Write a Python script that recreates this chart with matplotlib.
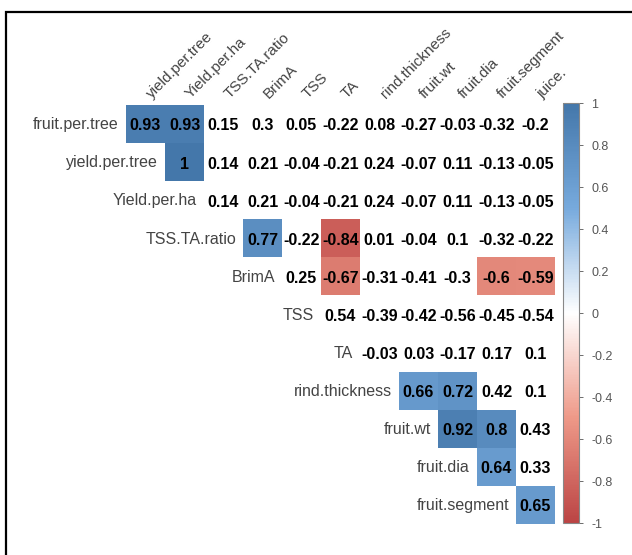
import numpy as np
import matplotlib
matplotlib.use("Agg")
import matplotlib.pyplot as plt
from matplotlib.colors import LinearSegmentedColormap, Normalize
from matplotlib.patches import Rectangle
from matplotlib.cm import ScalarMappable

plt.rcParams['font.family'] = ['Liberation Sans', 'DejaVu Sans']

variables = ["fruit.per.tree", "yield.per.tree", "Yield.per.ha", "TSS.TA.ratio",
             "BrimA", "TSS", "TA", "rind.thickness", "fruit.wt", "fruit.dia",
             "fruit.segment", "juice."]

# upper triangle of the correlation matrix, row i starts at variable i+1
upper = [
    [0.93, 0.93, 0.15, 0.3, 0.05, -0.22, 0.08, -0.27, -0.03, -0.32, -0.2],
    [1, 0.14, 0.21, -0.04, -0.21, 0.24, -0.07, 0.11, -0.13, -0.05],
    [0.14, 0.21, -0.04, -0.21, 0.24, -0.07, 0.11, -0.13, -0.05],
    [0.77, -0.22, -0.84, 0.01, -0.04, 0.1, -0.32, -0.22],
    [0.25, -0.67, -0.31, -0.41, -0.3, -0.6, -0.59],
    [0.54, -0.39, -0.42, -0.56, -0.45, -0.54],
    [-0.03, 0.03, -0.17, 0.17, 0.1],
    [0.66, 0.72, 0.42, 0.1],
    [0.92, 0.8, 0.43],
    [0.64, 0.33],
    [0.65],
]

# significant cells (row, column) - only these get a fill colour
signif = [(0, 0), (0, 1), (1, 1), (3, 3), (3, 5), (4, 5), (4, 9), (4, 10),
          (7, 7), (7, 8), (8, 8), (8, 9), (9, 9), (10, 10)]

cbar_ticks = [-1, -0.8, -0.6, -0.4, -0.2, 0, 0.2, 0.4, 0.6, 0.8, 1]

n = len(upper)
cmap = LinearSegmentedColormap.from_list(
    "corr", ["#BB4444", "#EE9988", "#FFFFFF", "#77AADD", "#4477AA"])
norm = Normalize(-1, 1)

W, H = 632, 555
fig = plt.figure(figsize=(W / 100, H / 100), dpi=100)

# outer frame
fig.patches.append(Rectangle((6 / W, -0.1), 1.2, 1 - 12 / H + 0.1,
                             transform=fig.transFigure, fill=False,
                             edgecolor="black", linewidth=1.6))

x0, x1, ytop, ybot = 126, 555, 105, 524
ax = fig.add_axes([x0 / W, 1 - ybot / H, (x1 - x0) / W, (ybot - ytop) / H])

mat = np.full((n, n), np.nan)
for i, row in enumerate(upper):
    for k, v in enumerate(row):
        j = i + k
        if (i, j) in signif:
            mat[i, j] = v
ax.imshow(np.ma.masked_invalid(mat), cmap=cmap, norm=norm, aspect="auto",
          interpolation="nearest", extent=(-0.5, n - 0.5, n - 0.5, -0.5))

for i, row in enumerate(upper):
    for k, v in enumerate(row):
        j = i + k
        ax.text(j, i + 0.05, f"{v:g}", ha="center", va="center",
                fontsize=11.5, fontweight="bold", color="black")
    # row labels
    ax.text(i - 0.68, i + 0.02, variables[i], ha="right", va="center",
            fontsize=11.5, color="#444444")

# column labels
for j in range(n):
    ax.text(j + 0.22, -0.6, variables[j + 1], rotation=45, ha="left",
            va="bottom", rotation_mode="anchor", fontsize=11, color="#444444")

ax.set_xlim(-0.5, n - 0.5)
ax.set_ylim(n - 0.5, -0.5)
ax.axis("off")

# colour legend
cax = fig.add_axes([563 / W, 1 - 523 / H, 16 / W, 420 / H])
cb = fig.colorbar(ScalarMappable(norm=norm, cmap=cmap), cax=cax, ticks=cbar_ticks)
cb.ax.set_yticklabels([f"{t:g}" for t in cbar_ticks])
cb.ax.tick_params(labelsize=9, colors="#555555", length=3, width=0.6, pad=6)
cb.outline.set_edgecolor("#888888")
cb.outline.set_linewidth(0.8)

fig.savefig("out.png", dpi=100)
